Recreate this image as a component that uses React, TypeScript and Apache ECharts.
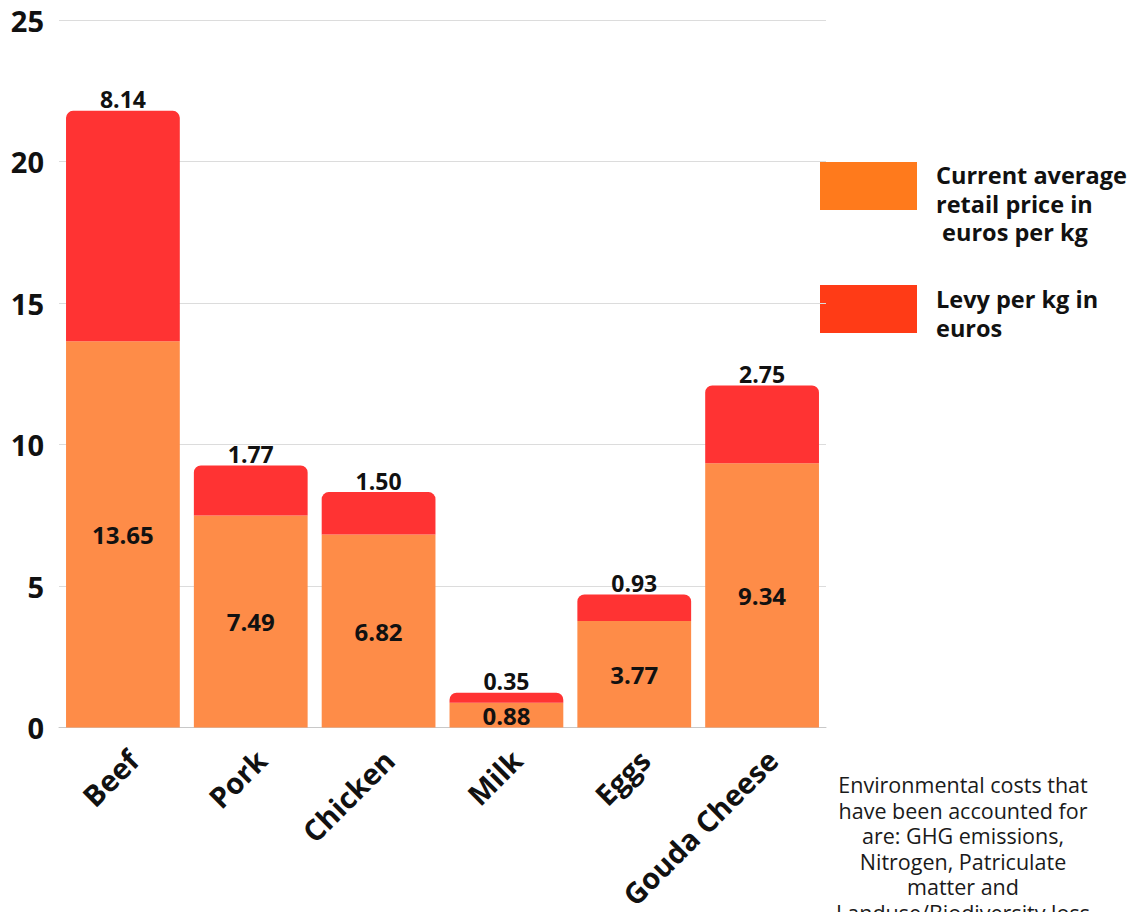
import React, { useEffect, useRef } from "react";
import * as echarts from "echarts";

const categories = ["Beef", "Pork", "Chicken", "Milk", "Eggs", "Gouda Cheese"];
const retailPrice = [13.65, 7.49, 6.82, 0.88, 3.77, 9.34];
const levy = [8.14, 1.77, 1.5, 0.35, 0.93, 2.75];
const yTicks = [0, 5, 10, 15, 20, 25];
const legendLabels = ["Current average\nretail price in\n euros per kg", "Levy per kg in\neuros"];
const noteText =
  "Environmental costs that\nhave been accounted for\nare: GHG emissions,\nNitrogen, Patriculate\nmatter and\nLanduse/Biodiversity loss";

const FONT = "'Open Sans', 'Noto Sans', sans-serif";

export default function App() {
  const ref = useRef<HTMLDivElement>(null);
  useEffect(() => {
    if (!ref.current) return;
    document.body.style.margin = "0";
    document.body.style.overflow = "hidden";
    const chart = echarts.init(ref.current, null, { renderer: "svg" });
    chart.setOption({
      animation: false,
      grid: { left: 59, right: 309, top: 20, bottom: 182, containLabel: false },
      xAxis: {
        type: "category",
        data: categories,
        axisLine: { lineStyle: { color: "#c8c8c8" } },
        axisTick: { show: false },
        axisLabel: {
          rotate: 45,
          margin: 17,
          verticalAlign: "top",
          fontFamily: FONT,
          fontWeight: "bold",
          fontSize: 29,
          color: "#111",
          interval: 0,
        },
      },
      yAxis: {
        type: "value",
        min: yTicks[0],
        max: yTicks[yTicks.length - 1],
        interval: 5,
        axisLine: { show: false },
        axisTick: { show: false },
        splitLine: { lineStyle: { color: "#dcdcdc" } },
        axisLabel: {
          margin: 15,
          fontFamily: FONT,
          fontWeight: "bold",
          fontSize: 29,
          color: "#111",
        },
      },
      series: [
        {
          name: "Current average retail price in euros per kg",
          type: "bar",
          stack: "total",
          barCategoryGap: "11%",
          data: retailPrice,
          itemStyle: { color: "#FE8C48" },
          label: {
            show: true,
            position: "inside",
            formatter: (p: any) => p.value.toFixed(2),
            fontFamily: FONT,
            fontWeight: "bold",
            fontSize: 24,
            color: "#111",
          },
        },
        {
          name: "Levy per kg in euros",
          type: "bar",
          stack: "total",
          barCategoryGap: "11%",
          data: levy,
          itemStyle: { color: "#FF3333", borderRadius: [7, 7, 0, 0] },
          label: {
            show: true,
            position: "top",
            distance: 0,
            formatter: (p: any) => p.value.toFixed(2),
            fontFamily: FONT,
            fontWeight: "bold",
            fontSize: 23,
            color: "#111",
          },
        },
      ],
      graphic: [
        { type: "rect", left: 820, top: 162, shape: { width: 97, height: 48 }, style: { fill: "#FF7A1C" } },
        { type: "rect", left: 820, top: 285, shape: { width: 97, height: 48 }, style: { fill: "#FF3B16" } },
        {
          type: "text",
          left: 936,
          top: 161,
          style: {
            text: legendLabels[0],
            fontFamily: FONT,
            fontWeight: "bold",
            fontSize: 23.5,
            lineHeight: 28.5,
            fill: "#111",
          },
        },
        {
          type: "text",
          left: 936,
          top: 285,
          style: {
            text: legendLabels[1],
            fontFamily: FONT,
            fontWeight: "bold",
            fontSize: 23.5,
            lineHeight: 28.5,
            fill: "#111",
          },
        },
        {
          type: "text",
          x: 963,
          y: 772,
          style: {
            text: noteText,
            align: "center",
            verticalAlign: "top",
            fontFamily: FONT,
            fontSize: 21.5,
            lineHeight: 25.5,
            fill: "#1a1a1a",
          },
        },
      ],
    });
    return () => chart.dispose();
  }, []);
  return <div ref={ref} style={{ width: 1135, height: 912 }} />;
}
